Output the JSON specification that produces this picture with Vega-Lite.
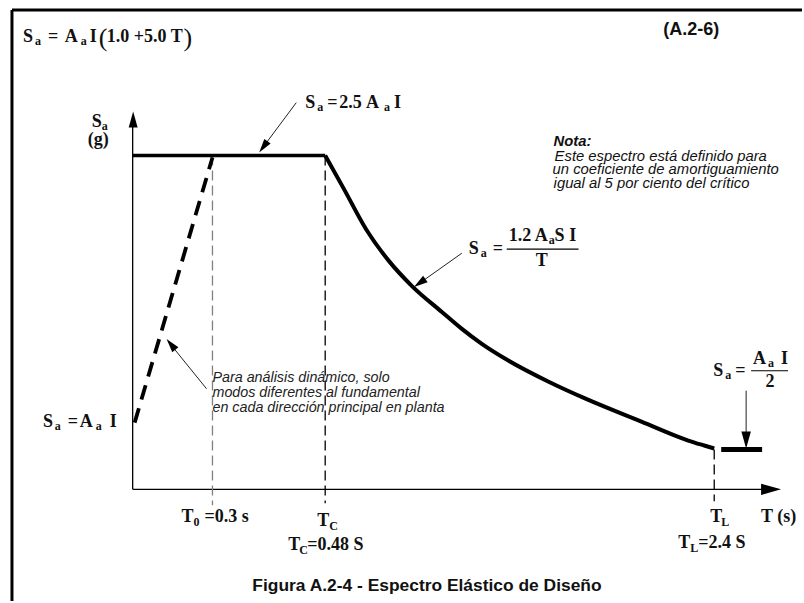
{
  "$schema": "https://vega.github.io/schema/vega-lite/v6.json",
  "width": 804,
  "height": 603,
  "autosize": {"type": "fit", "contains": "padding"},
  "padding": 0,
  "background": "white",
  "config": {"view": {"stroke": null}},
  "datasets": {
    "frame": [{"x": -121, "y": 481, "x2": 671, "y2": 481}, {"x": -121, "y": 481, "x2": -121, "y2": -112}],
    "axes": [{"x": 0, "y": 0, "x2": 0, "y2": 368}, {"x": 0, "y": 0, "x2": 634, "y2": 0}],
    "t0line": [{"x": 80, "y": 335, "x2": 80, "y2": -16}],
    "tclines": [{"x": 193, "y": 335, "x2": 193, "y2": -14}, {"x": 583, "y": 40, "x2": 583, "y2": -12}],
    "plateau": [{"x": 0, "y": 335, "x2": 193, "y2": 335}],
    "curve": [
      {"x": 193, "y": 335}, {"x": 212, "y": 301}, {"x": 234, "y": 261}, {"x": 257, "y": 229},
      {"x": 280, "y": 204}, {"x": 310, "y": 178}, {"x": 330, "y": 161}, {"x": 350, "y": 146},
      {"x": 377, "y": 129}, {"x": 417, "y": 108}, {"x": 454, "y": 91}, {"x": 510, "y": 68},
      {"x": 557, "y": 49}, {"x": 573, "y": 44}, {"x": 583, "y": 41}
    ],
    "rising": [{"x": 2, "y": 67, "x2": 80, "y2": 333}],
    "tail": [{"x": 590, "y": 40, "x2": 631, "y2": 40}],
    "pointers": [
      {"x": 164, "y": 388, "x2": 129, "y2": 341},
      {"x": 330, "y": 237, "x2": 285, "y2": 205},
      {"x": 74, "y": 101, "x2": 36, "y2": 148},
      {"x": 615, "y": 99, "x2": 615, "y2": 51}
    ],
    "fracs": [{"x": 375, "y": 241, "x2": 447, "y2": 241}, {"x": 620, "y": 119, "x2": 657, "y2": 119}],
    "main": [
      {"x": -110, "y": 449, "t": "S"}, {"x": -85, "y": 449, "t": "="}, {"x": -68, "y": 449, "t": "A"},
      {"x": -43, "y": 449, "t": "I"}, {"x": -26, "y": 449, "t": "1.0 +5.0 T"},
      {"x": 173, "y": 383, "t": "S"}, {"x": 195, "y": 383, "t": "="}, {"x": 207, "y": 383, "t": "2.5"},
      {"x": 234, "y": 383, "t": "A"}, {"x": 262, "y": 383, "t": "I"},
      {"x": -41, "y": 364, "t": "S"}, {"x": -45, "y": 346, "t": "(g)"},
      {"x": 337, "y": 236, "t": "S"}, {"x": 361, "y": 236, "t": "="}, {"x": 377, "y": 249, "t": "1.2 A"},
      {"x": 423, "y": 249, "t": "S I"},
      {"x": 582, "y": 114, "t": "S"}, {"x": 604, "y": 114, "t": "="}, {"x": 622, "y": 126, "t": "A"},
      {"x": 650, "y": 126, "t": "I"},
      {"x": -90, "y": 63, "t": "S"}, {"x": -65, "y": 63, "t": "="}, {"x": -53, "y": 63, "t": "A"},
      {"x": -23, "y": 63, "t": "I"},
      {"x": 49, "y": -33, "t": "T"}, {"x": 72, "y": -33, "t": "=0.3 s"},
      {"x": 185, "y": -37, "t": "T"},
      {"x": 156, "y": -61, "t": "T"}, {"x": 175, "y": -61, "t": "=0.48 S"},
      {"x": 579, "y": -33, "t": "T"},
      {"x": 630, "y": -33, "t": "T (s)"},
      {"x": 547, "y": -59, "t": "T"}, {"x": 567, "y": -59, "t": "=2.4 S"}
    ],
    "centered": [{"x": 410, "y": 224, "t": "T"}, {"x": 639, "y": 103, "t": "2"}],
    "subs": [
      {"x": -98, "y": 446, "t": "a"}, {"x": -52, "y": 446, "t": "a"},
      {"x": 185, "y": 380, "t": "a"}, {"x": 252, "y": 380, "t": "a"},
      {"x": -31, "y": 361, "t": "a"},
      {"x": 349, "y": 233, "t": "a"}, {"x": 417, "y": 246, "t": "a"},
      {"x": 594, "y": 111, "t": "a"}, {"x": 637, "y": 123, "t": "a"},
      {"x": -78, "y": 60, "t": "a"}, {"x": -37, "y": 60, "t": "a"},
      {"x": 61, "y": -37, "t": "0"},
      {"x": 197, "y": -41, "t": "C"},
      {"x": 167, "y": -65, "t": "C"},
      {"x": 590, "y": -37, "t": "L"},
      {"x": 559, "y": -63, "t": "L"}
    ],
    "parens": [{"x": -34, "y": 445, "t": "("}, {"x": 51, "y": 445, "t": ")"}],
    "eqno": [{"x": 532, "y": 456, "t": "(A.2-6)"}],
    "caption": [{"x": 120, "y": -102, "t": "Figura A.2-4 - Espectro Elástico de Diseño"}],
    "para": [
      {"x": 80, "y": 108, "t": "Para análisis dinámico, solo"},
      {"x": 80, "y": 93, "t": "modos diferentes al fundamental"},
      {"x": 80, "y": 78, "t": "en cada dirección principal en planta"}
    ],
    "notahead": [{"x": 422, "y": 345, "t": "Nota:"}],
    "nota": [
      {"x": 423, "y": 329, "t": "Este espectro está definido para"},
      {"x": 421, "y": 316, "t": "un coeficiente de amortiguamiento"},
      {"x": 422, "y": 302, "t": "igual al 5 por ciento del crítico"}
    ],
    "headY": [{"x": 0.5, "y": 371}],
    "headX": [{"x": 640, "y": 0}],
    "headDown": [{"x": 615, "y": 49.5}],
    "headA": [{"x": 131, "y": 343.6}],
    "headB": [{"x": 287.7, "y": 207}],
    "headC": [{"x": 38.4, "y": 145.5}]
  },
  "encoding": {
    "x": {"field": "x", "type": "quantitative", "scale": {"domain": [-133, 671], "nice": false, "zero": false}, "axis": null},
    "y": {"field": "y", "type": "quantitative", "scale": {"domain": [-112, 491], "nice": false, "zero": false}, "axis": null}
  },
  "layer": [
    {"data": {"name": "frame"}, "mark": {"type": "rule", "strokeWidth": 3, "color": "#000"}, "encoding": {"x2": {"field": "x2"}, "y2": {"field": "y2"}}},
    {"data": {"name": "axes"}, "mark": {"type": "rule", "strokeWidth": 1.3, "color": "#000"}, "encoding": {"x2": {"field": "x2"}, "y2": {"field": "y2"}}},
    {"data": {"name": "t0line"}, "mark": {"type": "rule", "strokeWidth": 1.3, "color": "#808080", "strokeDash": [10, 5]}, "encoding": {"x2": {"field": "x2"}, "y2": {"field": "y2"}}},
    {"data": {"name": "tclines"}, "mark": {"type": "rule", "strokeWidth": 1.3, "color": "#000", "strokeDash": [10, 5]}, "encoding": {"x2": {"field": "x2"}, "y2": {"field": "y2"}}},
    {"data": {"name": "plateau"}, "mark": {"type": "rule", "strokeWidth": 3.5, "color": "#000"}, "encoding": {"x2": {"field": "x2"}, "y2": {"field": "y2"}}},
    {"data": {"name": "curve"}, "mark": {"type": "line", "strokeWidth": 4, "color": "#000", "interpolate": "monotone"}, "encoding": {}},
    {"data": {"name": "rising"}, "mark": {"type": "rule", "strokeWidth": 3.8, "color": "#000", "strokeDash": [15, 9]}, "encoding": {"x2": {"field": "x2"}, "y2": {"field": "y2"}}},
    {"data": {"name": "tail"}, "mark": {"type": "rule", "strokeWidth": 5, "color": "#000"}, "encoding": {"x2": {"field": "x2"}, "y2": {"field": "y2"}}},
    {"data": {"name": "pointers"}, "mark": {"type": "rule", "strokeWidth": 1, "color": "#222"}, "encoding": {"x2": {"field": "x2"}, "y2": {"field": "y2"}}},
    {"data": {"name": "fracs"}, "mark": {"type": "rule", "strokeWidth": 1.2, "color": "#000"}, "encoding": {"x2": {"field": "x2"}, "y2": {"field": "y2"}}},
    {"data": {"name": "headY"}, "mark": {"type": "point", "shape": "M0,-1L0.56,1L-0.56,1Z", "filled": true, "opacity": 1, "size": 256, "angle": 0, "color": "#000", "strokeWidth": 0}},
    {"data": {"name": "headX"}, "mark": {"type": "point", "shape": "M0,-1L0.56,1L-0.56,1Z", "filled": true, "opacity": 1, "size": 400, "angle": 90, "color": "#000", "strokeWidth": 0}},
    {"data": {"name": "headDown"}, "mark": {"type": "point", "shape": "M0,-1L0.56,1L-0.56,1Z", "filled": true, "opacity": 1, "size": 289, "angle": 180, "color": "#000", "strokeWidth": 0}},
    {"data": {"name": "headA"}, "mark": {"type": "point", "shape": "M0,-1L0.56,1L-0.56,1Z", "filled": true, "opacity": 1, "size": 196, "angle": 216.5, "color": "#000", "strokeWidth": 0}},
    {"data": {"name": "headB"}, "mark": {"type": "point", "shape": "M0,-1L0.56,1L-0.56,1Z", "filled": true, "opacity": 1, "size": 196, "angle": 234.7, "color": "#000", "strokeWidth": 0}},
    {"data": {"name": "headC"}, "mark": {"type": "point", "shape": "M0,-1L0.56,1L-0.56,1Z", "filled": true, "opacity": 1, "size": 196, "angle": 321.3, "color": "#000", "strokeWidth": 0}},
    {"data": {"name": "main"}, "mark": {"type": "text", "font": "Liberation Serif", "fontWeight": "bold", "fontSize": 18, "align": "left", "baseline": "alphabetic", "color": "#111"}, "encoding": {"text": {"field": "t"}}},
    {"data": {"name": "centered"}, "mark": {"type": "text", "font": "Liberation Serif", "fontWeight": "bold", "fontSize": 18, "align": "center", "baseline": "alphabetic", "color": "#111"}, "encoding": {"text": {"field": "t"}}},
    {"data": {"name": "subs"}, "mark": {"type": "text", "font": "Liberation Serif", "fontWeight": "bold", "fontSize": 12, "align": "left", "baseline": "alphabetic", "color": "#111"}, "encoding": {"text": {"field": "t"}}},
    {"data": {"name": "parens"}, "mark": {"type": "text", "font": "Liberation Serif", "fontWeight": "normal", "fontSize": 26, "align": "left", "baseline": "alphabetic", "color": "#111"}, "encoding": {"text": {"field": "t"}}},
    {"data": {"name": "eqno"}, "mark": {"type": "text", "font": "Liberation Sans", "fontWeight": "bold", "fontSize": 18, "align": "left", "baseline": "alphabetic", "color": "#111"}, "encoding": {"text": {"field": "t"}}},
    {"data": {"name": "caption"}, "mark": {"type": "text", "font": "Liberation Sans", "fontWeight": "bold", "fontSize": 17.4, "align": "left", "baseline": "alphabetic", "color": "#111"}, "encoding": {"text": {"field": "t"}}},
    {"data": {"name": "para"}, "mark": {"type": "text", "font": "Liberation Sans", "fontStyle": "italic", "fontSize": 14.3, "align": "left", "baseline": "alphabetic", "color": "#222"}, "encoding": {"text": {"field": "t"}}},
    {"data": {"name": "notahead"}, "mark": {"type": "text", "font": "Liberation Sans", "fontStyle": "italic", "fontWeight": "bold", "fontSize": 14.8, "align": "left", "baseline": "alphabetic", "color": "#111"}, "encoding": {"text": {"field": "t"}}},
    {"data": {"name": "nota"}, "mark": {"type": "text", "font": "Liberation Sans", "fontStyle": "italic", "fontSize": 14.8, "align": "left", "baseline": "alphabetic", "color": "#111"}, "encoding": {"text": {"field": "t"}}}
  ]
}
